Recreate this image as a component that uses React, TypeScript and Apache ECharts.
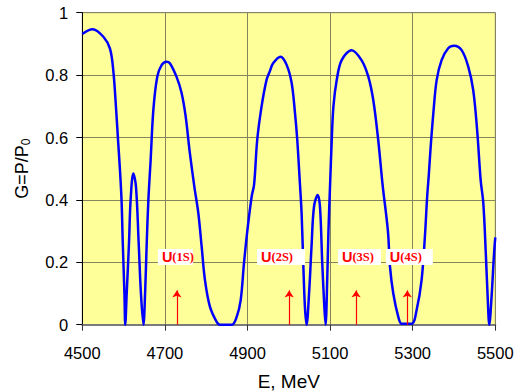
import React, { useEffect, useRef } from "react";
import * as echarts from "echarts";

const energy = [
  4500, 4525, 4551, 4567, 4575, 4582, 4587, 4591, 4595, 4598, 4602, 4604, 4607.5, 4613, 4617, 4623.5, 4630, 4636.5,
  4642, 4648, 4652, 4656, 4660, 4665.5, 4672, 4681.5, 4692, 4704, 4712, 4728, 4740, 4750, 4760, 4771, 4781, 4789,
  4797, 4809, 4825, 4833, 4862, 4874, 4883.5, 4891.5, 4899.5, 4910, 4916, 4923.5, 4934, 4946, 4954, 4962, 4980,
  4995, 5007, 5015, 5020.5, 5027, 5031, 5035, 5039, 5043, 5049.5, 5055, 5061, 5070, 5075.5, 5081, 5086, 5089,
  5093, 5096, 5100, 5104, 5108, 5116, 5128, 5152, 5176, 5192.5, 5204.5, 5216.5, 5227, 5240, 5245, 5253, 5265,
  5273.5, 5297.5, 5309.5, 5321.5, 5329.5, 5335, 5339, 5343.5, 5350, 5358, 5370, 5386, 5400, 5418.5, 5434.5,
  5446.5, 5456, 5464.5, 5471, 5477, 5481.5, 5485.5, 5491, 5497, 5500,
];
const gain = [
  0.932, 0.947, 0.923, 0.885, 0.815, 0.688, 0.582, 0.5, 0.4, 0.262, 0.1, 0.0, 0.1, 0.26, 0.4, 0.485, 0.442, 0.262,
  0.1, 0.0, 0.1, 0.262, 0.4, 0.528, 0.688, 0.795, 0.832, 0.843, 0.838, 0.795, 0.745, 0.67, 0.555, 0.445, 0.357, 0.25,
  0.143, 0.058, 0.01, 0.0, 0.0, 0.026, 0.079, 0.197, 0.3, 0.41, 0.45, 0.592, 0.699, 0.784, 0.812, 0.838, 0.859,
  0.832, 0.774, 0.678, 0.592, 0.45, 0.357, 0.197, 0.058, 0.0, 0.111, 0.25, 0.378, 0.416, 0.378, 0.197, 0.058, 0.0,
  0.143, 0.3, 0.45, 0.592, 0.699, 0.784, 0.848, 0.88, 0.848, 0.795, 0.72, 0.592, 0.45, 0.3, 0.186, 0.1, 0.026,
  0.003, 0.003, 0.047, 0.143, 0.282, 0.41, 0.48, 0.57, 0.678, 0.784, 0.848, 0.886, 0.894, 0.88, 0.827,
  0.752, 0.624, 0.464, 0.389, 0.229, 0.09, 0.0, 0.09, 0.229, 0.28,
];

const xTicks = [4500, 4700, 4900, 5100, 5300, 5500];
const yTicks = [0, 0.2, 0.4, 0.6, 0.8, 1];

const upsilonNames = ["1S", "2S", "3S", "4S"];
const upsilonArrowE = [4729, 5001, 5163, 5287];
const upsilonLabelE = [4683, 4923, 5119, 5235];
const arrowTopG = 0.11;
const labelG = 0.217;

const labelBoxWidths = [31, 44, 39, 43];

export default function App() {
  const ref = useRef<HTMLDivElement>(null);
  useEffect(() => {
    if (!ref.current) return;
    const chart = echarts.init(ref.current, null, { renderer: "svg" });
    const font = "'Liberation Sans', Arial, sans-serif";
    const data = energy.map((e, i) => [e, gain[i]]);
    chart.setOption({
      animation: false,
      grid: {
        left: 82.3,
        right: 20.7,
        top: 12.7,
        bottom: 67.3,
        containLabel: false,
        outerBoundsMode: "none",
        show: true,
        backgroundColor: "#FFFF99",
        borderColor: "#8a8a8a",
        borderWidth: 1,
      },
      xAxis: {
        type: "value",
        min: xTicks[0],
        max: xTicks[xTicks.length - 1],
        interval: 200,
        name: "E, MeV",
        nameLocation: "middle",
        nameGap: 47,
        nameTextStyle: { fontFamily: font, fontSize: 19, color: "#000" },
        axisLine: { show: true, onZero: false, lineStyle: { color: "#7a7a7a", width: 2 } },
        axisTick: { show: true, length: 6, lineStyle: { color: "#333" } },
        axisLabel: {
          fontFamily: font,
          fontSize: 16.5,
          color: "#000",
          margin: 20,
          formatter: (v: number) => String(v),
        },
        splitLine: { show: true, lineStyle: { color: "#86845f", width: 1 } },
      },
      yAxis: {
        type: "value",
        min: yTicks[0],
        max: yTicks[yTicks.length - 1],
        interval: 0.2,
        name: "G=P/P{sub|0}",
        nameLocation: "middle",
        nameGap: 50,
        nameTextStyle: {
          fontFamily: font,
          fontSize: 18,
          color: "#000",
          rich: { sub: { fontFamily: font, fontSize: 12, color: "#000", verticalAlign: "bottom", padding: [8, 0, 0, 0] } },
        },
        axisLine: { show: true, lineStyle: { color: "#000", width: 1 } },
        axisTick: { show: true, length: 6, lineStyle: { color: "#000" } },
        axisLabel: { fontFamily: font, fontSize: 16.5, color: "#000", margin: 14 },
        splitLine: { show: true, lineStyle: { color: "#86845f", width: 1 } },
      },
      series: [
        {
          type: "line",
          data,
          showSymbol: false,
          smooth: 0.35,
          lineStyle: { color: "#0000FF", width: 2.5 },
          itemStyle: { color: "#0000FF" },
          clip: true,
          z: 3,
          markLine: {
            silent: true,
            symbol: ["none", "arrow"],
            symbolSize: 7,
            precision: 3,
            label: { show: false },
            lineStyle: { color: "#FF0000", width: 1.2, type: "solid", opacity: 1 },
            emphasis: { disabled: true },
            data: upsilonArrowE.map((e) => [
              { coord: [e, 0], lineStyle: { color: "#FF0000" }, itemStyle: { color: "#FF0000" } },
              { coord: [e, arrowTopG], itemStyle: { color: "#FF0000" } },
            ]),
          },
          markPoint: {
            silent: true,
            symbol: "circle",
            symbolSize: 0,
            data: upsilonNames.map((n, i) => ({
              coord: [upsilonLabelE[i], labelG],
              label: {
                show: true,
                position: "right",
                distance: 0,
                formatter: `{u|U}{s|(${n})}`,
                backgroundColor: "#FFFFFF",
                padding: [0, 0, 0, 4],
                width: labelBoxWidths[i],
                align: "left",
                rich: {
                  u: { fontFamily: font, fontWeight: "bold", fontSize: 14.5, color: "#FF0000", lineHeight: 16 },
                  s: {
                    fontFamily: "'Liberation Serif', 'DejaVu Serif', serif",
                    fontWeight: "bold",
                    fontSize: 12.5,
                    color: "#FF0000",
                    lineHeight: 16,
                  },
                },
              },
            })),
          },
        },
      ],
    });
    return () => chart.dispose();
  }, []);
  return (
    <div
      ref={ref}
      style={{ position: "absolute", left: 0, top: 0, width: 516, height: 392, background: "#fff" }}
    />
  );
}
